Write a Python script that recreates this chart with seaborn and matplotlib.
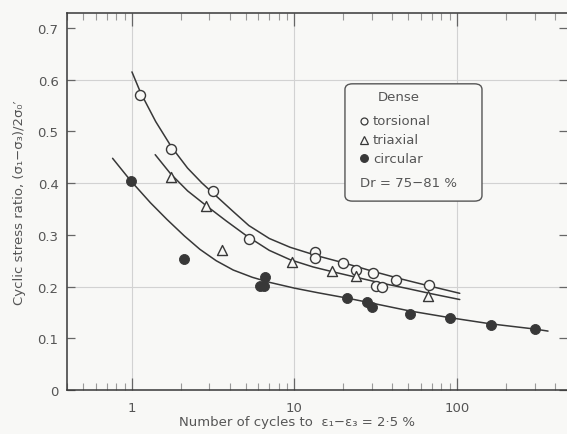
import numpy as np
import pandas as pd
import matplotlib
matplotlib.use("Agg")
import matplotlib.pyplot as plt
import seaborn as sns
from matplotlib.patches import FancyBboxPatch
from matplotlib.ticker import FixedLocator, FixedFormatter, LogLocator, NullFormatter

# ---- data ----
tors_x = [1.12, 1.74, 3.17, 5.24, 13.4, 13.4, 19.9, 23.9, 30.5, 31.7, 34.6, 42.4, 67.4]
tors_y = [0.571, 0.465, 0.384, 0.292, 0.267, 0.255, 0.245, 0.232, 0.226, 0.202, 0.199, 0.213, 0.203]

tri_x = [1.73, 2.85, 3.56, 9.6, 17.1, 23.9, 66.5]
tri_y = [0.411, 0.356, 0.270, 0.247, 0.231, 0.221, 0.182]

circ_x = [0.98, 2.09, 6.13, 6.52, 6.58, 20.9, 27.8, 30.2, 51.3, 90.6, 161, 300]
circ_y = [0.405, 0.253, 0.202, 0.202, 0.218, 0.178, 0.171, 0.160, 0.147, 0.139, 0.126, 0.118]

# hand-drawn trend curves
tors_curve_x = [1.0, 1.13, 1.4, 1.75, 2.2, 2.7, 3.17, 4.2, 5.24, 7.0, 9.4, 14, 20, 30, 45, 70, 104]
tors_curve_y = [0.615, 0.575, 0.519, 0.470, 0.429, 0.400, 0.380, 0.345, 0.318, 0.293, 0.276, 0.259, 0.246, 0.230, 0.215, 0.200, 0.187]

tri_curve_x = [1.39, 1.73, 2.2, 2.85, 3.8, 5.08, 7.0, 9.4, 13, 17, 24, 34, 50, 70, 104]
tri_curve_y = [0.455, 0.418, 0.385, 0.357, 0.327, 0.298, 0.270, 0.252, 0.238, 0.229, 0.218, 0.207, 0.196, 0.186, 0.175]

circ_curve_x = [0.76, 0.98, 1.3, 1.64, 2.1, 2.62, 3.3, 4.2, 5.5, 7.07, 10, 14, 20.9, 30, 51, 90, 161, 300, 363]
circ_curve_y = [0.448, 0.405, 0.362, 0.330, 0.298, 0.272, 0.250, 0.232, 0.218, 0.208, 0.197, 0.188, 0.178, 0.168, 0.153, 0.140, 0.128, 0.118, 0.114]

y_ticks = [0, 0.1, 0.2, 0.3, 0.4, 0.5, 0.6, 0.7]
y_tick_labels = ["0", "0.1", "0.2", "0.3", "0.4", "0.5", "0.6", "0.7"]
x_ticks = [1, 10, 100]
x_tick_labels = ["1", "10", "100"]

legend_title = "Dense"
legend_labels = ["torsional", "triaxial", "circular"]
legend_note = "Dr = 75\u221281 %"

# ---- style ----
sns.set_style("white")
plt.rcParams["font.family"] = ["DejaVu Sans"]
INK = "#383838"
TXT = "#555555"
GRID = "#d2d2d2"
BG = "#f8f8f6"

fig = plt.figure(figsize=(5.67, 4.35), dpi=100, facecolor=BG)
ax = fig.add_axes([0.118, 0.101, 0.882, 0.867])
ax.set_facecolor(BG)

ax.set_xscale("log")
ax.set_xlim(0.398, 475)
ax.set_ylim(0, 0.729)

# faint graph-paper grid
for gx in x_ticks:
    ax.axvline(gx, color=GRID, lw=0.8, zorder=0)
for gy in [0.2, 0.4, 0.6]:
    ax.axhline(gy, color=GRID, lw=0.8, zorder=0)

# curves
for cx, cy in [(tors_curve_x, tors_curve_y), (tri_curve_x, tri_curve_y), (circ_curve_x, circ_curve_y)]:
    dfc = pd.DataFrame({"x": cx, "y": cy})
    sns.lineplot(data=dfc, x="x", y="y", ax=ax, color=INK, lw=1.1, sort=False,
                 estimator=None, zorder=2)

# points
ms = 52
sns.scatterplot(x=tors_x, y=tors_y, ax=ax, marker="o", s=ms, facecolor=BG,
                edgecolor=INK, linewidth=1.0, zorder=3)
sns.scatterplot(x=tri_x, y=tri_y, ax=ax, marker="^", s=ms, facecolor=BG,
                edgecolor=INK, linewidth=1.0, zorder=3)
sns.scatterplot(x=circ_x, y=circ_y, ax=ax, marker="o", s=ms, color=INK,
                edgecolor=INK, linewidth=0.6, zorder=3)

# axes, ticks
ax.spines["right"].set_visible(False)
for s in ["left", "bottom", "top"]:
    ax.spines[s].set_color(INK)
    ax.spines[s].set_linewidth(1.1)

ax.xaxis.set_major_locator(FixedLocator(x_ticks))
ax.xaxis.set_major_formatter(FixedFormatter(x_tick_labels))
ax.xaxis.set_minor_locator(LogLocator(base=10, subs=np.arange(2, 10)))
ax.xaxis.set_minor_formatter(NullFormatter())
ax.yaxis.set_major_locator(FixedLocator(y_ticks))
ax.yaxis.set_major_formatter(FixedFormatter(y_tick_labels))

ax.tick_params(axis="x", which="major", direction="in", length=9, width=0.9,
               top=True, bottom=True, colors="#666666", labelcolor=TXT, labelsize=9.5, pad=8)
ax.tick_params(axis="x", which="minor", direction="in", length=5, width=0.8,
               top=True, bottom=True, colors="#999999")
ax.tick_params(axis="y", which="major", direction="in", length=6, width=0.9,
               left=True, right=True, colors="#666666", labelcolor=TXT, labelsize=9.5, pad=6)

ax.set_xlabel("Number of cycles to  \u03b5\u2081\u2212\u03b5\u2083 = 2\u00b75 %",
              color=TXT, fontsize=9.5, labelpad=6)
ax.xaxis.set_label_coords(0.46, -0.065)
ax.set_ylabel("Cyclic stress ratio, (\u03c3\u2081\u2212\u03c3\u2083)/2\u03c3\u2080\u2032",
              color=TXT, fontsize=9.5, labelpad=8)

# legend box drawn by hand
box = FancyBboxPatch((0.556, 0.501), 0.274, 0.311, transform=ax.transAxes,
                     boxstyle="round,pad=0,rounding_size=0.015",
                     facecolor=BG, edgecolor="#555555", lw=1.0, zorder=4)
ax.add_patch(box)
ax.text(0.622, 0.779, legend_title, transform=ax.transAxes, color=TXT,
        fontsize=9.5, va="center", ha="left", zorder=5)
rows_y = [0.714, 0.664, 0.615]
styles = [dict(marker="o", mfc=BG, mec=INK, ms=5),
          dict(marker="^", mfc=BG, mec=INK, ms=5.5),
          dict(marker="o", mfc=INK, mec=INK, ms=5.5)]
for ry, lab, st in zip(rows_y, legend_labels, styles):
    ax.plot([0.594], [ry], transform=ax.transAxes, ls="none", mew=0.9, zorder=5, **st)
    ax.text(0.612, ry, lab, transform=ax.transAxes, color=TXT, fontsize=9.5,
            va="center", ha="left", zorder=5)
ax.text(0.586, 0.551, legend_note, transform=ax.transAxes, color=TXT,
        fontsize=9.5, va="center", ha="left", zorder=5)

fig.savefig("out.png", dpi=100, facecolor=BG)
